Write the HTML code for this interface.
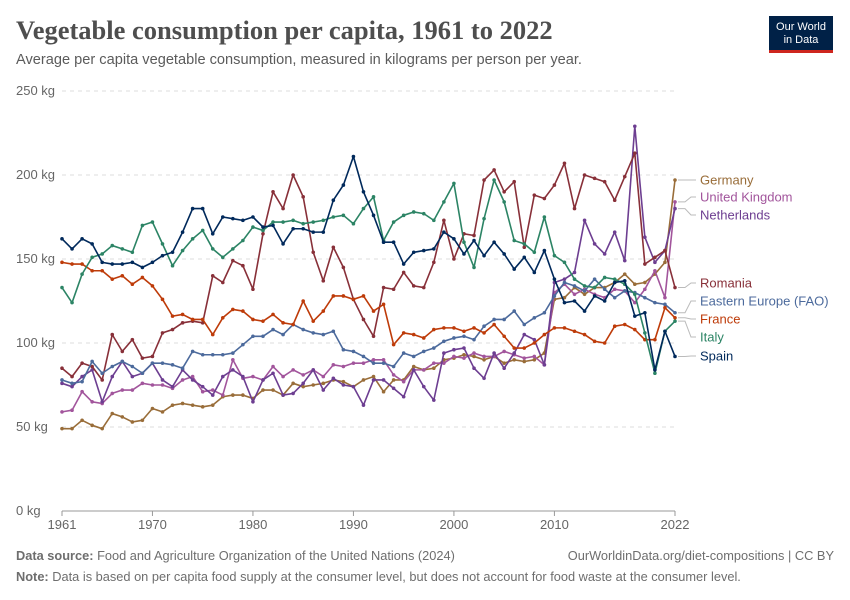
<!DOCTYPE html>
<html><head><meta charset="utf-8"><style>
body{margin:0;background:#fff;font-family:"Liberation Sans",sans-serif;}
#wrap{position:relative;width:850px;height:600px;overflow:hidden;}
.t{position:absolute;white-space:nowrap;}
</style></head><body>
<div id="wrap">
<div class="t" style="left:16px;top:15px;font-family:'Liberation Serif',serif;font-size:26.5px;font-weight:bold;color:#4e4e4e;">Vegetable consumption per capita, 1961 to 2022</div>
<div class="t" style="left:16px;top:52px;font-size:14.6px;color:#5b5b5b;">Average per capita vegetable consumption, measured in kilograms per person per year.</div>
<div style="position:absolute;left:769px;top:16px;width:64px;height:37px;background:#002147;border-bottom:3px solid #ce261e;box-sizing:border-box;color:#fff;font-size:11px;line-height:13px;text-align:center;padding-top:5px;">Our World<br>in Data</div>
<svg id="chart" width="850" height="600" style="position:absolute;left:0;top:0;"></svg>
<div class="t" style="left:16px;top:548px;font-size:12.8px;color:#6e6e6e;"><b>Data source:</b> Food and Agriculture Organization of the United Nations (2024)</div>
<div class="t" style="right:16px;top:548px;font-size:12.8px;color:#6e6e6e;">OurWorldinData.org/diet-compositions | CC BY</div>
<div class="t" style="left:16px;top:569px;font-size:12.8px;color:#6e6e6e;"><b>Note:</b> Data is based on per capita food supply at the consumer level, but does not account for food waste at the consumer level.</div>
</div>
<script>
const years=[];for(let y=1961;y<=2022;y++)years.push(y);
const yTicks=[0,50,100,150,200,250];
const xTicks=[1961,1970,1980,1990,2000,2010,2022];
const spain=[162,156,162,159,148,147,147,148,145,148,152,154,166,180,180,165,175,174,173,175,169,170,159,168,168,166,166,185,194,211,190,176,160,160,147,154,155,156,166,162,153,161,152,160,153,144,151,142,155,138,124,125,119,128,125,136,137,116,118,84,107,92];
const italy=[133,124,141,151,153,158,156,154,170,172,159,146,155,162,167,156,151,156,161,169,167,172,172,173,171,172,173,175,176,171,180,187,161,172,176,178,177,173,184,195,160,145,174,197,184,161,159,154,175,152,148,138,134,133,139,138,135,129,106,82,107,113];
const france=[148,147,147,143,143,138,140,135,139,134,126,116,117,114,114,105,115,120,119,114,113,117,112,111,125,113,119,128,128,126,128,119,123,99,106,105,103,108,109,109,107,109,106,111,104,97,97,100,105,109,109,107,105,101,100,110,111,108,102,102,121,115];
const romania=[85,80,88,86,78,105,95,102,91,92,106,108,112,113,112,140,136,149,146,132,165,190,180,200,187,154,137,157,145,126,114,104,133,132,142,134,133,148,173,150,165,164,197,203,190,196,157,188,186,194,207,180,200,198,196,185,199,213,147,151,155,133];
const netherlands=[76,74,80,84,65,80,89,80,82,88,78,74,84,78,74,69,80,84,80,65,78,82,69,70,76,84,72,79,75,74,63,78,78,73,68,84,74,66,94,96,97,85,79,94,85,94,105,102,87,136,138,142,173,159,153,166,149,229,163,148,155,180];
const easternEurope=[78,76,77,89,82,86,89,86,82,88,88,87,85,95,93,93,93,94,99,104,104,108,105,111,108,106,105,107,96,95,92,88,88,86,94,92,95,97,101,103,104,102,110,114,114,119,111,115,118,128,136,134,131,138,132,127,131,130,127,124,123,118];
const uk=[59,60,71,65,64,70,72,72,76,75,75,73,78,80,71,72,69,90,79,80,78,86,80,84,81,84,80,87,86,88,88,90,90,81,77,84,84,88,88,92,91,94,92,92,95,93,91,92,87,130,135,129,132,129,127,132,131,124,132,143,127,184];
const germany=[49,49,54,51,49,58,56,53,54,61,59,63,64,63,62,63,68,69,69,67,72,72,69,76,74,75,76,78,77,74,78,80,71,78,78,86,84,85,90,91,93,92,90,92,88,90,89,90,94,126,127,133,129,133,133,136,141,135,136,141,148,197];
const seriesNames=["Germany","United Kingdom","Netherlands","Romania","Eastern Europe (FAO)","France","Italy","Spain"];
const seriesData=[germany,uk,netherlands,romania,easternEurope,france,italy,spain];
const colors=["#996d39","#a2559c","#6d3e91","#883039","#4c6a9c","#be3b09","#2c8465","#00295b"];
const labelY=[180,197,215,283,301,319,337,356];

const NS="http://www.w3.org/2000/svg";
const svg=document.getElementById('chart');
const X0=62,X1=675,Y0=511,Y1=91;
const xs=y=>X0+(y-1961)*(X1-X0)/(2022-1961);
const ys=v=>Y0-v*(Y0-Y1)/250;
function mk(tag,attrs){const e=document.createElementNS(NS,tag);for(const k in attrs)e.setAttribute(k,attrs[k]);svg.appendChild(e);return e;}
yTicks.forEach(t=>{
  const l=mk('line',{x1:X0,x2:X1,y1:ys(t),y2:ys(t),stroke:t===0?'#999':'#ddd','stroke-dasharray':t===0?'':'4,4'});
  
  
  const tx=mk('text',{x:16,y:ys(t)+4,'font-size':13,fill:'#666','font-family':'Liberation Sans, sans-serif'});
  tx.textContent=t+' kg';
  
  
});
xTicks.forEach(t=>{
  const tk=mk('line',{x1:xs(t),x2:xs(t),y1:Y0,y2:Y0+5,stroke:'#999'});
  
  
  const tx=mk('text',{x:xs(t),y:529,'font-size':13,fill:'#666','text-anchor':'middle','font-family':'Liberation Sans, sans-serif'});
  tx.textContent=t;
  
  
});
seriesData.forEach((d,i)=>{
  const p=mk('polyline',{points:d.map((v,j)=>xs(years[j])+','+ys(v)).join(' '),fill:'none',stroke:colors[i],'stroke-width':1.6,'stroke-linejoin':'round'});
  
  
  d.forEach((v,j)=>{
    const c=mk('circle',{cx:xs(years[j]),cy:ys(v),r:1.8,fill:colors[i]});
    
    
  });
  const ly=labelY[i];
  const cn=mk('path',{d:`M${X1+3},${ys(d[d.length-1])} H${X1+10} L${X1+16},${ly} H${X1+21}`,fill:'none',stroke:'#bbb','stroke-width':1});
  
  
  const lt=mk('text',{x:700,y:ly+4.5,'font-size':13,fill:colors[i],'font-family':'Liberation Sans, sans-serif'});
  lt.textContent=seriesNames[i];
  
  
});
</script>
</body></html>
